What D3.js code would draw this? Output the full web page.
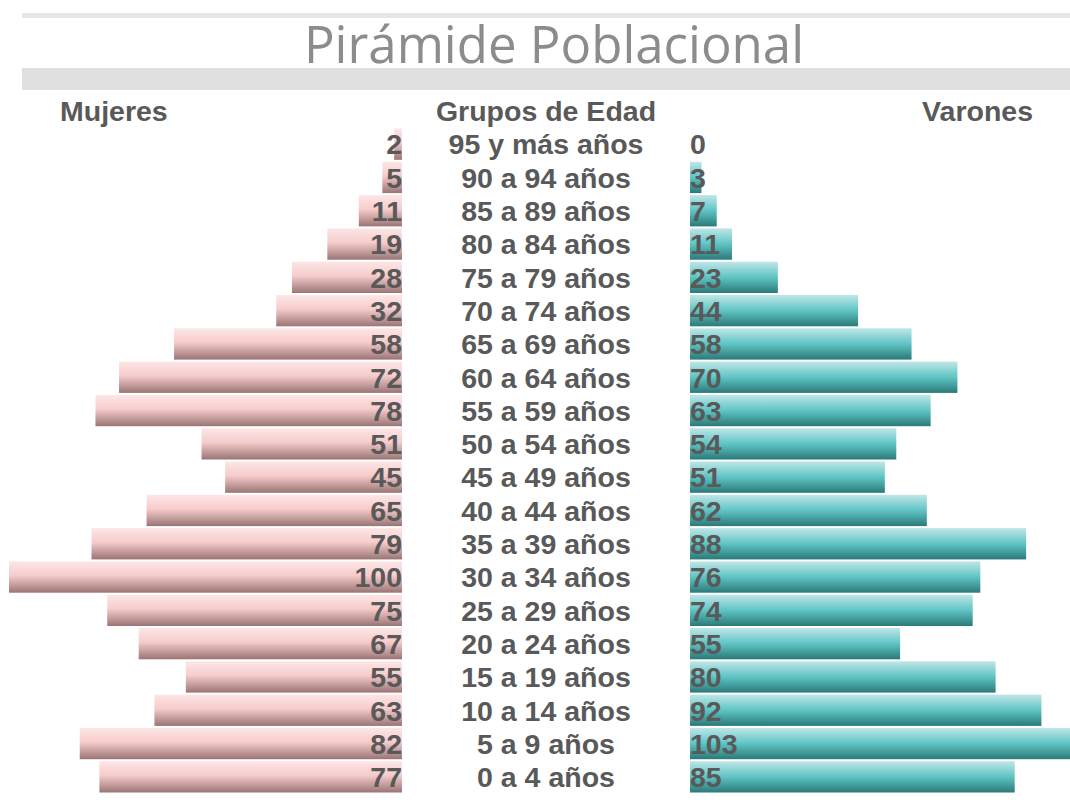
<!DOCTYPE html>
<html>
  <head>
    <meta charset="utf-8">
    <script src="https://cdn.jsdelivr.net/npm/d3@7"></script>
    <style>
      body { margin: 0; background: #fff; }
      text { font-family: "Liberation Sans", Arial, Helvetica, sans-serif; }
      .head, .val, .age { font-weight: bold; fill: #595959; font-size: 28.5px; }
    </style>
  </head>
  <body>
    <div id="chart"></div>
  </body>
  <script>
  (function (d3) {
    'use strict';

    // age groups, top to bottom
    var ages = ['95 y más años', '90 a 94 años', '85 a 89 años', '80 a 84 años',
      '75 a 79 años', '70 a 74 años', '65 a 69 años', '60 a 64 años',
      '55 a 59 años', '50 a 54 años', '45 a 49 años', '40 a 44 años',
      '35 a 39 años', '30 a 34 años', '25 a 29 años', '20 a 24 años',
      '15 a 19 años', '10 a 14 años', '5 a 9 años', '0 a 4 años'];
    var mujeres = [2, 5, 11, 19, 28, 32, 58, 72, 78, 51, 45, 65, 79, 100, 75, 67, 55, 63, 82, 77];
    var varones = [0, 3, 7, 11, 23, 44, 58, 70, 63, 54, 51, 62, 88, 76, 74, 55, 80, 92, 103, 85];

    var width = 1070, height = 807;
    var midLeft = 402, midRight = 690;

    var svg = d3.select('#chart').append('svg')
      .attr('width', width)
      .attr('height', height);

    // gradients
    var defs = svg.append('defs');
    var gf = defs.append('linearGradient').attr('id', 'gf')
      .attr('x1', 0).attr('y1', 0).attr('x2', 0).attr('y2', 1);
    gf.append('stop').attr('offset', '0%').attr('stop-color', '#fde6e6');
    gf.append('stop').attr('offset', '45%').attr('stop-color', '#f6cccc');
    gf.append('stop').attr('offset', '100%').attr('stop-color', '#9a7474');
    var gm = defs.append('linearGradient').attr('id', 'gm')
      .attr('x1', 0).attr('y1', 0).attr('x2', 0).attr('y2', 1);
    gm.append('stop').attr('offset', '0%').attr('stop-color', '#bfe6e8');
    gm.append('stop').attr('offset', '50%').attr('stop-color', '#5fc4c4');
    gm.append('stop').attr('offset', '100%').attr('stop-color', '#2a7a78');

    // title block
    svg.append('rect').attr('x', 22).attr('y', 13).attr('width', width - 22).attr('height', 5)
      .attr('fill', '#e6e6e6');
    svg.append('rect').attr('x', 22).attr('y', 68).attr('width', width - 22).attr('height', 22)
      .attr('fill', '#e0e0e0');
    svg.append('text')
      .attr('x', 554).attr('y', 63)
      .attr('text-anchor', 'middle')
      .style('font-family', '"Open Sans", sans-serif')
      .style('font-size', '51px')
      .attr('fill', '#8c8c8c')
      .text('Pirámide Poblacional');

    // column headers
    svg.append('text').attr('class', 'head').attr('x', 60).attr('y', 121)
      .text('Mujeres');
    svg.append('text').attr('class', 'head').attr('x', 546).attr('y', 121)
      .attr('text-anchor', 'middle').text('Grupos de Edad');
    svg.append('text').attr('class', 'head').attr('x', 1033).attr('y', 121)
      .attr('text-anchor', 'end').text('Varones');

    var y = d3.scaleBand()
      .domain(ages)
      .range([128.5, 792.5])
      .paddingInner(0.06);

    var xF = d3.scaleLinear().domain([0, 100]).range([0, 393]);
    var xM = d3.scaleLinear().domain([0, 100]).range([0, 382]);

    var rows = svg.selectAll('.row')
      .data(ages)
      .enter()
      .append('g')
      .attr('class', 'row')
      .attr('transform', function (d) { return 'translate(0,' + y(d) + ')'; });

    rows.append('rect')
      .attr('x', function (d, i) { return midLeft - xF(mujeres[i]); })
      .attr('width', function (d, i) { return xF(mujeres[i]); })
      .attr('height', y.bandwidth())
      .attr('fill', 'url(#gf)');

    rows.append('rect')
      .attr('x', midRight)
      .attr('width', function (d, i) { return xM(varones[i]); })
      .attr('height', y.bandwidth())
      .attr('fill', 'url(#gm)');

    var mid = y.bandwidth() / 2;

    rows.append('text')
      .attr('class', 'val')
      .attr('x', midLeft)
      .attr('y', mid)
      .attr('dy', '0.36em')
      .attr('text-anchor', 'end')
      .text(function (d, i) { return mujeres[i]; });

    rows.append('text')
      .attr('class', 'val')
      .attr('x', midRight)
      .attr('y', mid)
      .attr('dy', '0.36em')
      .text(function (d, i) { return varones[i]; });

    rows.append('text')
      .attr('class', 'age')
      .attr('x', 546)
      .attr('y', mid)
      .attr('dy', '0.36em')
      .attr('text-anchor', 'middle')
      .text(function (d) { return d; });

  })(window.d3);
  </script>
</html>
